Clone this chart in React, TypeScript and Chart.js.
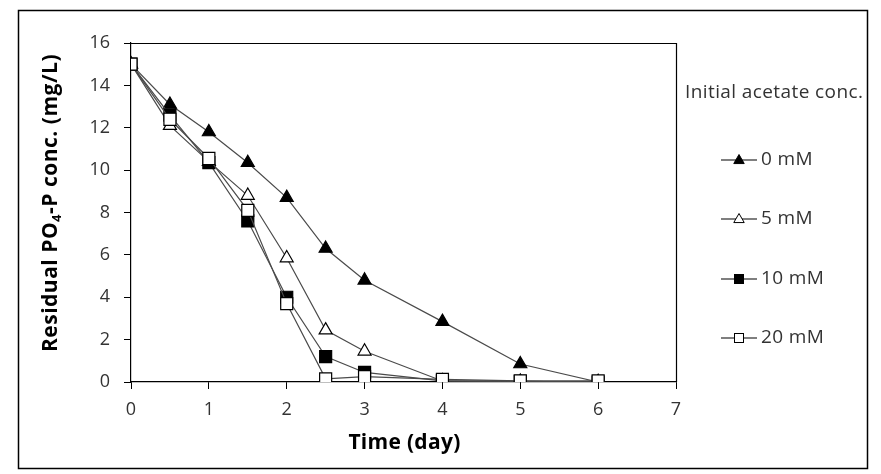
import React, { useEffect, useRef } from "react";
import { Chart, registerables } from "chart.js";

Chart.register(...registerables);

const days = [0, 0.5, 1, 1.5, 2, 2.5, 3, 4, 5, 6];
const mM0 = [15, 13.1, 11.8, 10.35, 8.7, 6.3, 4.8, 2.85, 0.85, 0];
const mM5 = [15, 12.1, 10.4, 8.8, 5.85, 2.45, 1.45, 0.05, 0.03, 0];
const mM10 = [15, 12.6, 10.35, 7.6, 4.0, 1.2, 0.45, 0.05, 0.03, 0];
const mM20 = [15, 12.4, 10.55, 8.1, 3.7, 0.15, 0.25, 0.12, 0.05, 0.05];
const seriesLabels = ["0 mM", "5 mM", "10 mM", "20 mM"];
const legendTitle = "Initial acetate conc.";
const xTitle = "Time (day)";
const yTitleParts = ["Residual PO", "4", "-P conc. (mg/L)"];

const FONT = "'Open Sans', 'DejaVu Sans', sans-serif";
const LINE = "#4a4a4a";

const toPts = (vals: number[]) => vals.map((v, i) => ({ x: days[i], y: v }));

const styles = [
  { pointStyle: "triangle", fill: "#000", radius: 7.5 },
  { pointStyle: "triangle", fill: "#fff", radius: 7.5 },
  { pointStyle: "rect", fill: "#000", radius: 8.5 },
  { pointStyle: "rect", fill: "#fff", radius: 8.5 },
];

const decorPlugin = {
  id: "decor",
  beforeDatasetsDraw(chart: any) {
    const { ctx, chartArea } = chart;
    ctx.save();
    ctx.strokeStyle = "#000";
    ctx.lineWidth = 1.2;
    ctx.beginPath();
    ctx.moveTo(chartArea.left, chartArea.top + 0.5);
    ctx.lineTo(chartArea.right + 0.5, chartArea.top + 0.5);
    ctx.lineTo(chartArea.right + 0.5, chartArea.bottom);
    ctx.stroke();
    ctx.restore();
  },
  afterDraw(chart: any) {
    const { ctx, chartArea } = chart;
    ctx.save();
    // outer frame
    ctx.strokeStyle = "#000";
    ctx.lineWidth = 1.5;
    ctx.strokeRect(18.5, 10.5, 849, 458);

    // x title
    ctx.fillStyle = "#000";
    ctx.font = `bold 21px ${FONT}`;
    (ctx as any).letterSpacing = "0.3px";
    ctx.textAlign = "center";
    ctx.textBaseline = "middle";
    ctx.fillText(xTitle, (chartArea.left + chartArea.right) / 2 + 1, 443);

    // y title with subscript
    const big = `bold 21px ${FONT}`;
    const small = `bold 13px ${FONT}`;
    (ctx as any).letterSpacing = "0.5px";
    ctx.font = big;
    const w0 = ctx.measureText(yTitleParts[0]).width;
    const w2 = ctx.measureText(yTitleParts[2]).width;
    ctx.font = small;
    const w1 = ctx.measureText(yTitleParts[1]).width;
    const total = w0 + w1 + w2;
    ctx.translate(57, 203);
    ctx.rotate(-Math.PI / 2);
    ctx.textAlign = "left";
    ctx.textBaseline = "alphabetic";
    let x = -total / 2;
    ctx.font = big;
    ctx.fillText(yTitleParts[0], x, 0);
    x += w0;
    ctx.font = small;
    ctx.fillText(yTitleParts[1], x, 4);
    x += w1;
    ctx.font = big;
    ctx.fillText(yTitleParts[2], x, 0);
    ctx.setTransform(1, 0, 0, 1, 0, 0);

    // legend
    (ctx as any).letterSpacing = "0.4px";
    ctx.fillStyle = "#333";
    ctx.font = `19px ${FONT}`;
    ctx.textAlign = "left";
    ctx.textBaseline = "middle";
    ctx.fillText(legendTitle, 685, 93);
    const ys = [160, 219, 279, 338];
    seriesLabels.forEach((lab, i) => {
      const y = ys[i];
      ctx.strokeStyle = "#000";
      ctx.lineWidth = 1.2;
      ctx.beginPath();
      ctx.moveTo(721, y);
      ctx.lineTo(757, y);
      ctx.stroke();
      const s = styles[i];
      ctx.fillStyle = s.fill;
      ctx.strokeStyle = "#000";
      ctx.lineWidth = 1;
      if (s.pointStyle === "triangle") {
        const r = 5.5;
        ctx.beginPath();
        ctx.moveTo(739, y - r);
        ctx.lineTo(739 + r * 0.95, y + r * 0.65);
        ctx.lineTo(739 - r * 0.95, y + r * 0.65);
        ctx.closePath();
        ctx.fill();
        ctx.stroke();
      } else {
        ctx.fillRect(734.5, y - 4.5, 9, 9);
        ctx.strokeRect(734.5, y - 4.5, 9, 9);
      }
      ctx.fillStyle = "#333";
      ctx.fillText(lab, 761, y);
    });
    (ctx as any).letterSpacing = "0px";
    ctx.restore();
  },
};

export default function App() {
  const ref = useRef<HTMLCanvasElement>(null);
  useEffect(() => {
    if (!ref.current) return;
    const all = [mM0, mM5, mM10, mM20];
    const orders = [3, 2, 1, 0];
    const chart = new Chart(ref.current, {
      type: "scatter",
      data: {
        datasets: all.map((vals, i) => ({
          label: seriesLabels[i],
          data: toPts(vals),
          showLine: true,
          borderColor: LINE,
          borderWidth: 1.2,
          pointStyle: styles[i].pointStyle as any,
          pointRadius: styles[i].radius,
          pointHoverRadius: styles[i].radius,
          pointBackgroundColor: styles[i].fill,
          pointBorderColor: "#000",
          pointBorderWidth: 1.2,
          order: orders[i],
        })),
      },
      plugins: [decorPlugin],
      options: {
        animation: false,
        responsive: false,
        layout: { padding: { left: 0, top: 43, right: 205, bottom: 0 } },
        plugins: { legend: { display: false }, tooltip: { enabled: false } },
        scales: {
          x: {
            type: "linear",
            min: 0,
            max: 7,
            ticks: {
              stepSize: 1,
              color: "#333",
              font: { family: FONT, size: 18 },
              padding: 10,
            },
            grid: {
              drawOnChartArea: false,
              drawTicks: true,
              tickLength: 7,
              color: "#000",
            },
            border: { color: "#000", width: 1.2 },
            afterFit: (s: any) => {
              s.height = 474 - 382;
            },
          },
          y: {
            min: 0,
            max: 16,
            ticks: {
              stepSize: 2,
              color: "#333",
              font: { family: FONT, size: 18 },
              padding: 14,
            },
            grid: {
              drawOnChartArea: false,
              drawTicks: true,
              tickLength: 7,
              color: "#000",
            },
            border: { color: "#000", width: 1.2 },
            afterFit: (s: any) => {
              s.width = 131;
            },
          },
        },
      },
    });
    return () => chart.destroy();
  }, []);
  return (
    <div style={{ position: "fixed", left: 0, top: 0, width: 881, height: 474, background: "#fff" }}>
      <canvas ref={ref} width={881} height={474} style={{ display: "block" }} />
    </div>
  );
}
